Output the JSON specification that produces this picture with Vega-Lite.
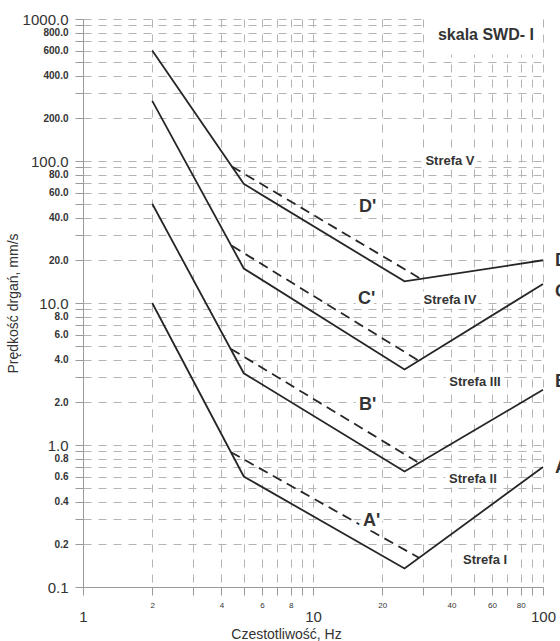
{
  "$schema": "https://vega.github.io/schema/vega-lite/v6.json",
  "width": 460,
  "height": 568,
  "autosize": "none",
  "padding": {"left": 83, "top": 19, "right": 17, "bottom": 54},
  "background": "white",
  "config": {
    "view": {"stroke": null},
    "font": "Liberation Sans",
    "axis": {"labelFont": "Liberation Sans", "titleFont": "Liberation Sans"}
  },
  "datasets": {
    "bounds": [
      {"line": "A", "f": 2, "v": 10},
      {"line": "A", "f": 5, "v": 0.6},
      {"line": "A", "f": 25, "v": 0.135},
      {"line": "A", "f": 100, "v": 0.7},
      {"line": "B", "f": 2, "v": 50},
      {"line": "B", "f": 5, "v": 3.2},
      {"line": "B", "f": 25, "v": 0.65},
      {"line": "B", "f": 100, "v": 2.45},
      {"line": "C", "f": 2, "v": 265},
      {"line": "C", "f": 5, "v": 17.5},
      {"line": "C", "f": 25, "v": 3.4},
      {"line": "C", "f": 100, "v": 13.6},
      {"line": "D", "f": 2, "v": 600},
      {"line": "D", "f": 5, "v": 69},
      {"line": "D", "f": 25, "v": 14.2},
      {"line": "D", "f": 100, "v": 20}
    ],
    "primeBounds": [
      {"line": "A'", "f": 4.4, "v": 0.89},
      {"line": "A'", "f": 29, "v": 0.16},
      {"line": "B'", "f": 4.4, "v": 4.75},
      {"line": "B'", "f": 29, "v": 0.745},
      {"line": "C'", "f": 4.44, "v": 25.3},
      {"line": "C'", "f": 29, "v": 3.9},
      {"line": "D'", "f": 4.44, "v": 91.5},
      {"line": "D'", "f": 29.2, "v": 14.9}
    ],
    "zones": [
      {"text": "Strefa V", "f": 39.4, "v": 100},
      {"text": "Strefa IV", "f": 39.4, "v": 10.5},
      {"text": "Strefa III", "f": 50.6, "v": 2.8},
      {"text": "Strefa II", "f": 49.6, "v": 0.575},
      {"text": "Strefa I", "f": 56, "v": 0.154}
    ],
    "primes": [
      {"text": "D'", "f": 17.3, "v": 47.4},
      {"text": "C'", "f": 17.1, "v": 10.7},
      {"text": "B'", "f": 17.3, "v": 1.9},
      {"text": "A'", "f": 18, "v": 0.29}
    ],
    "ends": [
      {"text": "D", "f": 112.8, "v": 19.7},
      {"text": "C", "f": 112.8, "v": 12},
      {"text": "B", "f": 112.8, "v": 2.78},
      {"text": "A", "f": 112.8, "v": 0.69}
    ],
    "titleBox": [
      {"f": 31, "f2": 100, "v": 560, "v2": 1000}
    ],
    "titleText": [
      {"text": "skala SWD- I", "f": 56.5, "v": 774}
    ]
  },
  "encoding": {
    "x": {
      "field": "f",
      "type": "quantitative",
      "scale": {"type": "log", "domain": [1, 100]},
      "axis": {
        "values": [1, 2, 3, 4, 5, 6, 7, 8, 9, 10, 20, 30, 40, 50, 60, 70, 80, 90, 100],
        "labelExpr": "indexof([1, 2, 4, 6, 8, 10, 20, 40, 60, 80, 100], datum.value) >= 0 ? '' + datum.value : ''",
        "labelFontSize": {"condition": {"test": "indexof([1, 10, 100], datum.value) >= 0", "value": 15}, "value": 8},
        "labelPadding": {"condition": {"test": "indexof([1, 10, 100], datum.value) >= 0", "value": 14}, "value": 6},
        "labelColor": "#333333",
        "labelFlush": false,
        "labelOverlap": false,
        "grid": true,
        "gridDash": [8, 7],
        "gridColor": "#b4b4b4",
        "gridWidth": 1,
        "tickSize": 8,
        "tickColor": "#9a9a9a",
        "domainColor": "#9a9a9a",
        "title": "Czestotliwość, Hz",
        "titleFontSize": 14,
        "titleFontWeight": "normal",
        "titleColor": "#333333",
        "titleX": 203,
        "titleY": 51,
        "titleBaseline": "alphabetic"
      }
    },
    "y": {
      "field": "v",
      "type": "quantitative",
      "scale": {"type": "log", "domain": [0.1, 1000]},
      "axis": {
        "values": [0.1, 0.2, 0.3, 0.4, 0.5, 0.6, 0.7, 0.8, 0.9, 1, 2, 3, 4, 5, 6, 7, 8, 9, 10, 20, 30, 40, 50, 60, 70, 80, 90, 100, 200, 300, 400, 500, 600, 700, 800, 900, 1000],
        "labelExpr": "indexof([0.1, 0.2, 0.4, 0.6, 0.8, 1, 2, 4, 6, 8, 10, 20, 40, 60, 80, 100, 200, 400, 600, 800, 1000], datum.value) >= 0 ? format(datum.value, '.1f') : ''",
        "labelFontSize": {"condition": {"test": "indexof([0.1, 1, 10, 100, 1000], datum.value) >= 0", "value": 15}, "value": 10},
        "labelFontWeight": {"condition": {"test": "indexof([0.1, 1, 10, 100, 1000], datum.value) >= 0", "value": "normal"}, "value": "bold"},
        "labelColor": "#333333",
        "labelPadding": 7,
        "labelFlush": false,
        "labelOverlap": false,
        "grid": true,
        "gridDash": [8, 7],
        "gridColor": "#b4b4b4",
        "gridWidth": 1,
        "tickSize": 8,
        "tickColor": "#9a9a9a",
        "domainColor": "#9a9a9a",
        "title": "Prędkość drgań, mm/s",
        "titleFontSize": 14,
        "titleFontWeight": "normal",
        "titleColor": "#333333",
        "titlePadding": 2
      }
    }
  },
  "layer": [
    {
      "data": {"name": "bounds"},
      "mark": {"type": "line", "color": "#262626", "strokeWidth": 1.8},
      "encoding": {"detail": {"field": "line"}}
    },
    {
      "data": {"name": "primeBounds"},
      "mark": {"type": "line", "color": "#262626", "strokeWidth": 1.8, "strokeDash": [10, 6]},
      "encoding": {"detail": {"field": "line"}}
    },
    {
      "data": {"name": "titleBox"},
      "mark": {"type": "rect", "color": "white"},
      "encoding": {
        "x2": {"field": "f2"},
        "y2": {"field": "v2"}
      }
    },
    {
      "data": {"name": "titleText"},
      "mark": {"type": "text", "fontSize": 16, "fontWeight": "bold", "color": "#333333"},
      "encoding": {"text": {"field": "text"}}
    },
    {
      "data": {"name": "zones"},
      "mark": {"type": "text", "fontSize": 13, "fontWeight": "bold", "stroke": "white", "strokeWidth": 9, "strokeJoin": "round"},
      "encoding": {"text": {"field": "text"}}
    },
    {
      "data": {"name": "zones"},
      "mark": {"type": "text", "fontSize": 13, "fontWeight": "bold", "color": "#333333"},
      "encoding": {"text": {"field": "text"}}
    },
    {
      "data": {"name": "primes"},
      "mark": {"type": "text", "fontSize": 18, "fontWeight": "bold", "stroke": "white", "strokeWidth": 9, "strokeJoin": "round"},
      "encoding": {"text": {"field": "text"}}
    },
    {
      "data": {"name": "primes"},
      "mark": {"type": "text", "fontSize": 18, "fontWeight": "bold", "color": "#333333"},
      "encoding": {"text": {"field": "text"}}
    },
    {
      "data": {"name": "ends"},
      "mark": {"type": "text", "fontSize": 18, "fontWeight": "bold", "color": "#333333", "align": "left"},
      "encoding": {"text": {"field": "text"}}
    }
  ]
}
